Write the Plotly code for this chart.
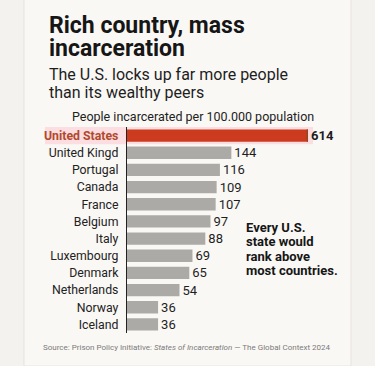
import plotly.graph_objects as go

countries = ["United States", "United Kingd", "Portugal", "Canada", "France", "Belgium",
             "Italy", "Luxembourg", "Denmark", "Netherlands", "Norway", "Iceland"]
rates = [614, 144, 116, 109, 107, 97, 88, 69, 65, 54, 36, 36]
title_lines = ["Rich country, mass", "incarceration"]
subtitle_lines = ["The U.S. locks up far more people", "than its wealthy peers"]
note_lines = ["Every U.S.", "state would", "rank above", "most countries."]

W, H = 375, 366
L, R, T, B = 127, 30, 127, 33
pw = W - L - R
ph = H - T - B
FONT = "Roboto, 'Liberation Sans', sans-serif"

def px(x):
    return (x - L) / pw

def py(y):
    return (H - B - y) / ph

colors = ["#cc3b1e"] + ["#acaaa6"] * (len(countries) - 1)
texts = ["<b>%d</b>" % rates[0]] + [str(v) for v in rates[1:]]

fig = go.Figure()
fig.add_trace(go.Bar(
    x=rates, y=countries, orientation="h",
    marker=dict(color=colors, line=dict(width=0)),
    width=0.72,
    text=texts, textposition="outside", cliponaxis=False, constraintext="none",
    textfont=dict(family=FONT, size=13, color="#1e1e1e"),
    hoverinfo="skip",
))

ticktext = ["<span style='color:#b14a2a'><b>United States</b></span>"] + countries[1:]

card_bg = "#faf8f5"
fig.update_layout(
    width=W, height=H,
    margin=dict(l=L, r=R, t=T, b=B),
    paper_bgcolor="#f4f2ee",
    plot_bgcolor="rgba(0,0,0,0)",
    showlegend=False,
    xaxis=dict(type="log", range=[1.301, 3.092], visible=False),
    yaxis=dict(
        autorange="reversed", tickmode="array", tickvals=countries, ticktext=ticktext,
        showgrid=False, zeroline=False, ticks="", showline=True, linecolor="#222",
        linewidth=1.2, ticklabelstandoff=5,
        tickfont=dict(family=FONT, size=12.3, color="#222"),
    ),
    font=dict(family=FONT),
)

# card
fig.add_shape(type="rect", xref="paper", yref="paper", x0=px(24), x1=px(351), y0=py(366), y1=py(-2),
              fillcolor=card_bg, line=dict(color="#e6e3de", width=1), layer="below")
# highlight behind US row
fig.add_shape(type="rect", xref="paper", yref="y", x0=px(45), x1=px(313), y0=-0.5, y1=0.5,
              fillcolor="#fbdde2", line=dict(width=0), layer="below")
# darker tip of US bar
fig.add_shape(type="rect", xref="x", yref="y", x0=rates[0] * 0.975, x1=rates[0], y0=-0.36, y1=0.36,
              fillcolor="#8f4a22", line=dict(width=0), layer="above")

ann = []
for i, line in enumerate(title_lines):
    ann.append(dict(x=px(47), y=py(25 + 23.5 * i), xref="paper", yref="paper", xanchor="left",
                    yanchor="middle", text="<b>%s</b>" % line, showarrow=False, align="left",
                    font=dict(size=23, color="#161616", family=FONT)))
for i, line in enumerate(subtitle_lines):
    ann.append(dict(x=px(47), y=py(75 + 17.5 * i), xref="paper", yref="paper", xanchor="left",
                    yanchor="middle", text=line, showarrow=False, align="left",
                    font=dict(size=16, color="#1e1e1e", family=FONT)))
ann.append(dict(x=px(193), y=py(116), xref="paper", yref="paper", xanchor="center", yanchor="middle",
                text="People incarcerated per 100.000 population", showarrow=False,
                font=dict(size=12.5, color="#222", family=FONT)))
for i, line in enumerate(note_lines):
    ann.append(dict(x=px(244), y=py(227 + 14.6 * i), xref="paper", yref="paper", xanchor="left",
                    yanchor="middle", text="<b>%s</b>" % line, showarrow=False, align="left",
                    font=dict(size=13, color="#161616", family=FONT)))
ann.append(dict(x=px(187), y=py(347), xref="paper", yref="paper", xanchor="center", yanchor="middle",
                text="Source: Prison Policy Initiative: <i>States of Incarceration</i> — The Global Context 2024",
                showarrow=False, font=dict(size=8, color="#7a7a7a", family=FONT)))
fig.update_layout(annotations=ann)

fig.write_html("out.html", config={"displayModeBar": False},
               post_script="document.body.style.margin='0';document.body.style.overflow='hidden';")
